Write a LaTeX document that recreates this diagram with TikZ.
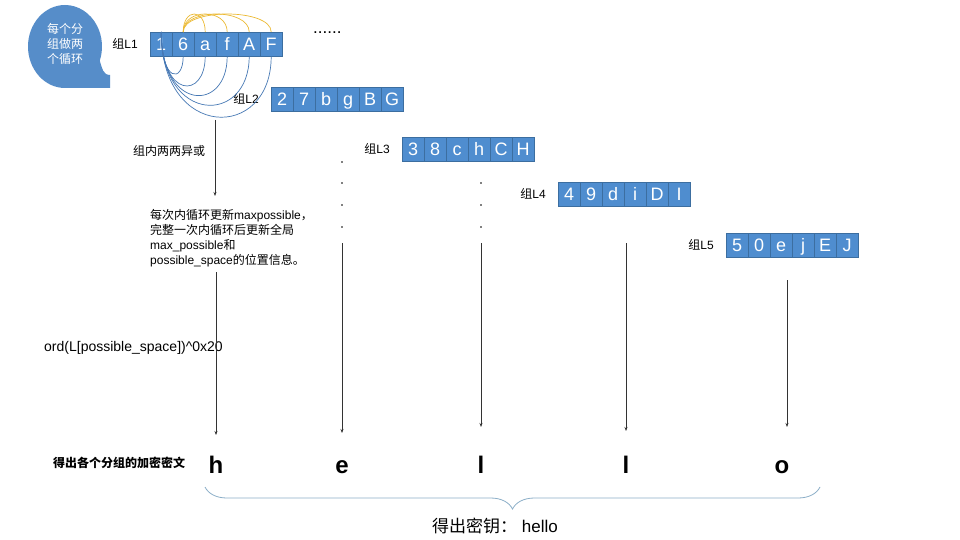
\documentclass[tikz,border=0pt]{standalone}
\usepackage{fontspec}
\setmainfont{Liberation Sans}
\newfontfamily\cjk{Noto Sans CJK SC}
\usetikzlibrary{positioning,arrows.meta,decorations.pathreplacing}
\definecolor{cellblue}{RGB}{79,141,207}
\definecolor{cellline}{RGB}{60,110,160}
\definecolor{bubbleblue}{RGB}{86,141,201}
\definecolor{outerloop}{RGB}{70,120,180}
\definecolor{innerloop}{RGB}{236,186,52}
\definecolor{bracecol}{RGB}{140,175,200}
\tikzset{
	cell/.style={draw=cellline, fill=cellblue, text=white, anchor=north west, minimum width=22pt, minimum height=24pt, inner sep=0pt, text height=12pt, text depth=0pt, font=\fontsize{18}{18}\selectfont},
	grplabel/.style={inner sep=0pt, font=\fontsize{12}{14}\selectfont},
	note/.style={inner sep=0pt, align=left, font=\fontsize{12}{15}\selectfont},
	flow/.style={-{Stealth[length=4pt,width=3pt]}, line width=0.6pt, black!80},
	loopa/.style={line width=0.7pt, innerloop},
	loopb/.style={line width=0.7pt, outerloop},
	result/.style={anchor=base, inner sep=0pt, font=\bfseries\fontsize{24}{24}\selectfont},
	keybrace/.style={decorate, decoration={brace, mirror, amplitude=22pt}, line width=0.8pt, bracecol}
}
\begin{document}
\begin{tikzpicture}[x=1pt, y=-1pt]
		%%%%% START %%%%%
		\useasboundingbox (0, 0) rectangle (960, 540);
		\fill[white] (0, 0) rectangle (960, 540);
		
		% bubble
		\fill[bubbleblue] (65, 88) arc[start angle=90, end angle=380, x radius=37, y radius=41.5] .. controls (102, 68) and (103, 75) .. (110, 75) -- (110, 88) -- cycle;
		\node[note, align=center, text=white] (loops) at (65, 44) {\cjk 每个分\\\cjk 组做两\\\cjk 个循环};
		
		% groups
		\foreach \g/\x/\y/\chars in {1/150/32/{1,6,a,f,A,F}, 2/271/87/{2,7,b,g,B,G}, 3/402/137/{3,8,c,h,C,H}, 4/558/182/{4,9,d,i,D,I}, 5/726/233/{5,0,e,j,E,J}}{
			\foreach \c [count=\i] in \chars {
				\node[cell] (L\g-\i) at ({\x+22*(\i-1)}, \y) {\c};
			}
			\node[grplabel, left=12pt of L\g-1] (lab\g) {{\cjk 组}L\g};
		}
		
		% two loops
		\foreach \j in {3,...,6}
			\draw[loopa] (L1-2.north) .. controls +(0, -24) and +(0, -24) .. (L1-\j.north);
		\foreach \j/\a/\b in {2/51/27, 3/67/43, 4/80/56, 5/93/69, 6/109/85}
			\draw[loopb] (L1-1.north) .. controls +(0, \a) and +(0, \b) .. (L1-\j.south);
		
		\node[anchor=base west, inner sep=0pt, font=\fontsize{17}{17}\selectfont] (more) at (313, 34) {......};
		
		% notes
		\node[note] (xor) at (169, 151) {\cjk 组内两两异或};
		\node[note, anchor=north west] (update) at (150, 209) {{\cjk 每次内循环更新}maxpossible{\cjk ，}\\{\cjk 完整一次内循环后更新全局}\\max\_possible{\cjk 和}\\possible\_space{\cjk 的位置信息。}};
		\node[note, anchor=west, font=\fontsize{14}{16}\selectfont] (ord) at (44, 348) {ord(L[possible\_space])\^{}0x20};
		
		\coordinate (x1) at (215, 120);
		\coordinate (x1e) at (215, 196);
		\draw[flow] (x1) -- (x1e);
		
		% dots
		\foreach \y in {162, 183, 205, 227}
			\fill (342, \y) circle (0.9);
		\foreach \y in {183, 205, 227}
			\fill (481, \y) circle (0.9);
		
		% arrows down to the letters
		\foreach \n/\x/\ya/\yb in {k1/216/272/435, k2/342/243/433, k3/481/243/427, k4/626/243/431, k5/787/280/427}{
			\coordinate (\n-s) at (\x, \ya);
			\coordinate (\n-e) at (\x, \yb);
			\draw[flow] (\n-s) -- (\n-e);
		}
		
		% results
		\node[inner sep=0pt, font=\cjk\bfseries\fontsize{12}{14}\selectfont] (cipher) at (119, 463) {得出各个分组的加密密文};
		\node[result] (h) at (216, 473) {h};
		\node[result] (e) at (342, 473) {e};
		\node[result] (l1) at (481, 473) {l};
		\node[result] (l2) at (626, 473) {l};
		\node[result] (o) at (782, 473) {o};
		
		\coordinate (bl) at (205, 487);
		\coordinate (br) at (820, 487);
		\draw[keybrace] (bl) -- (br);
		\node[inner sep=0pt, font=\fontsize{17}{17}\selectfont] (key) at (495, 526) {{\cjk 得出密钥：} hello};
		
		%%%%% END %%%%%
	\end{tikzpicture}
\end{document}
